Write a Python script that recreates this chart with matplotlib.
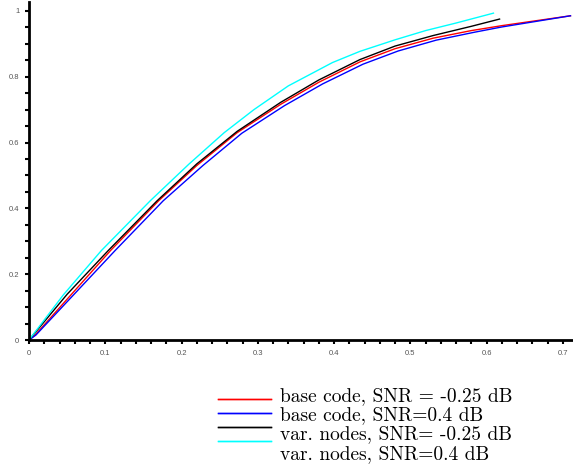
import matplotlib
matplotlib.use("Agg")
import matplotlib.pyplot as plt
from matplotlib.lines import Line2D
from matplotlib.ticker import MultipleLocator

# curves
x_base_m025 = [0, 0.008, 0.107, 0.170, 0.220, 0.273, 0.330, 0.380, 0.434, 0.480,
               0.530, 0.580, 0.620, 0.665, 0.710]
y_base_m025 = [0, 0.015, 0.272, 0.423, 0.530, 0.630, 0.716, 0.783, 0.845, 0.885,
               0.917, 0.940, 0.955, 0.970, 0.985]

x_base_04 = [0, 0.009, 0.113, 0.176, 0.228, 0.279, 0.335, 0.385, 0.438, 0.484,
             0.534, 0.584, 0.620, 0.665, 0.710]
y_base_04 = [0, 0.015, 0.272, 0.423, 0.530, 0.628, 0.712, 0.778, 0.838, 0.878,
             0.911, 0.935, 0.951, 0.968, 0.985]

x_var_m025 = [0, 0.050, 0.104, 0.168, 0.220, 0.273, 0.330, 0.380, 0.434, 0.480,
              0.530, 0.580, 0.617]
y_var_m025 = [0, 0.139, 0.272, 0.423, 0.535, 0.634, 0.722, 0.790, 0.852, 0.893,
              0.925, 0.953, 0.975]

x_var_04 = [0, 0.045, 0.095, 0.159, 0.210, 0.256, 0.295, 0.340, 0.398, 0.434,
            0.480, 0.520, 0.560, 0.609]
y_var_04 = [0, 0.137, 0.272, 0.423, 0.535, 0.630, 0.700, 0.772, 0.843, 0.877,
            0.912, 0.940, 0.963, 0.993]

labels = ["base code, SNR = -0.25 dB", "base code, SNR=0.4 dB",
          "var. nodes, SNR= -0.25 dB", "var. nodes, SNR=0.4 dB"]
colors = ["#ff0000", "#0000ff", "#000000", "#00ffff"]

fig = plt.figure(figsize=(5.73, 4.65), dpi=100)
ax = fig.add_axes([0.0506, 0.2688, 0.949, 0.727])

series = [(x_base_m025, y_base_m025), (x_base_04, y_base_04),
          (x_var_m025, y_var_m025), (x_var_04, y_var_04)]
for (xs, ys), c in zip(series, colors):
    ax.plot(xs, ys, color=c, lw=1.0)

ax.set_xlim(0, 0.713)
ax.set_ylim(0, 1.027)

for s in ["top", "right"]:
    ax.spines[s].set_visible(False)
ax.spines["left"].set_linewidth(2)
ax.spines["bottom"].set_linewidth(2)

ax.xaxis.set_minor_locator(MultipleLocator(0.02))
ax.yaxis.set_minor_locator(MultipleLocator(0.05))
ax.tick_params(which="both", direction="out", length=3, width=1.5,
               labelsize=5.5, labelcolor="#555555", pad=4)
ax.set_xticks([0, 0.1, 0.2, 0.3, 0.4, 0.5, 0.6, 0.7])
ax.set_xticklabels(["0", "0.1", "0.2", "0.3", "0.4", "0.5", "0.6", "0.7"],
                   family="Liberation Sans")
ax.set_yticks([0, 0.2, 0.4, 0.6, 0.8, 1.0])
ax.set_yticklabels(["0", "0.2", "0.4", "0.6", "0.8", "1"], family="Liberation Sans")

# legend: short lines and text rows do not line up, as in the source
handles = [Line2D([], [], color=c, lw=1.0) for c in colors]
leg1 = fig.legend(handles, [""] * 4, loc="upper left", bbox_to_anchor=(0.381, 0.155),
                  frameon=False, handlelength=3.8, labelspacing=0.0,
                  handletextpad=0, borderpad=0, borderaxespad=0, fontsize=10)
fig.add_artist(leg1)
fig.legend([Line2D([], [], lw=0)] * 4, labels, loc="upper left",
           bbox_to_anchor=(0.4887, 0.1675), frameon=False, handlelength=0,
           handletextpad=0, labelspacing=0.07, borderpad=0, borderaxespad=0,
           prop={"family": "cmr10", "size": 14})

fig.savefig("out.png", dpi=100)
